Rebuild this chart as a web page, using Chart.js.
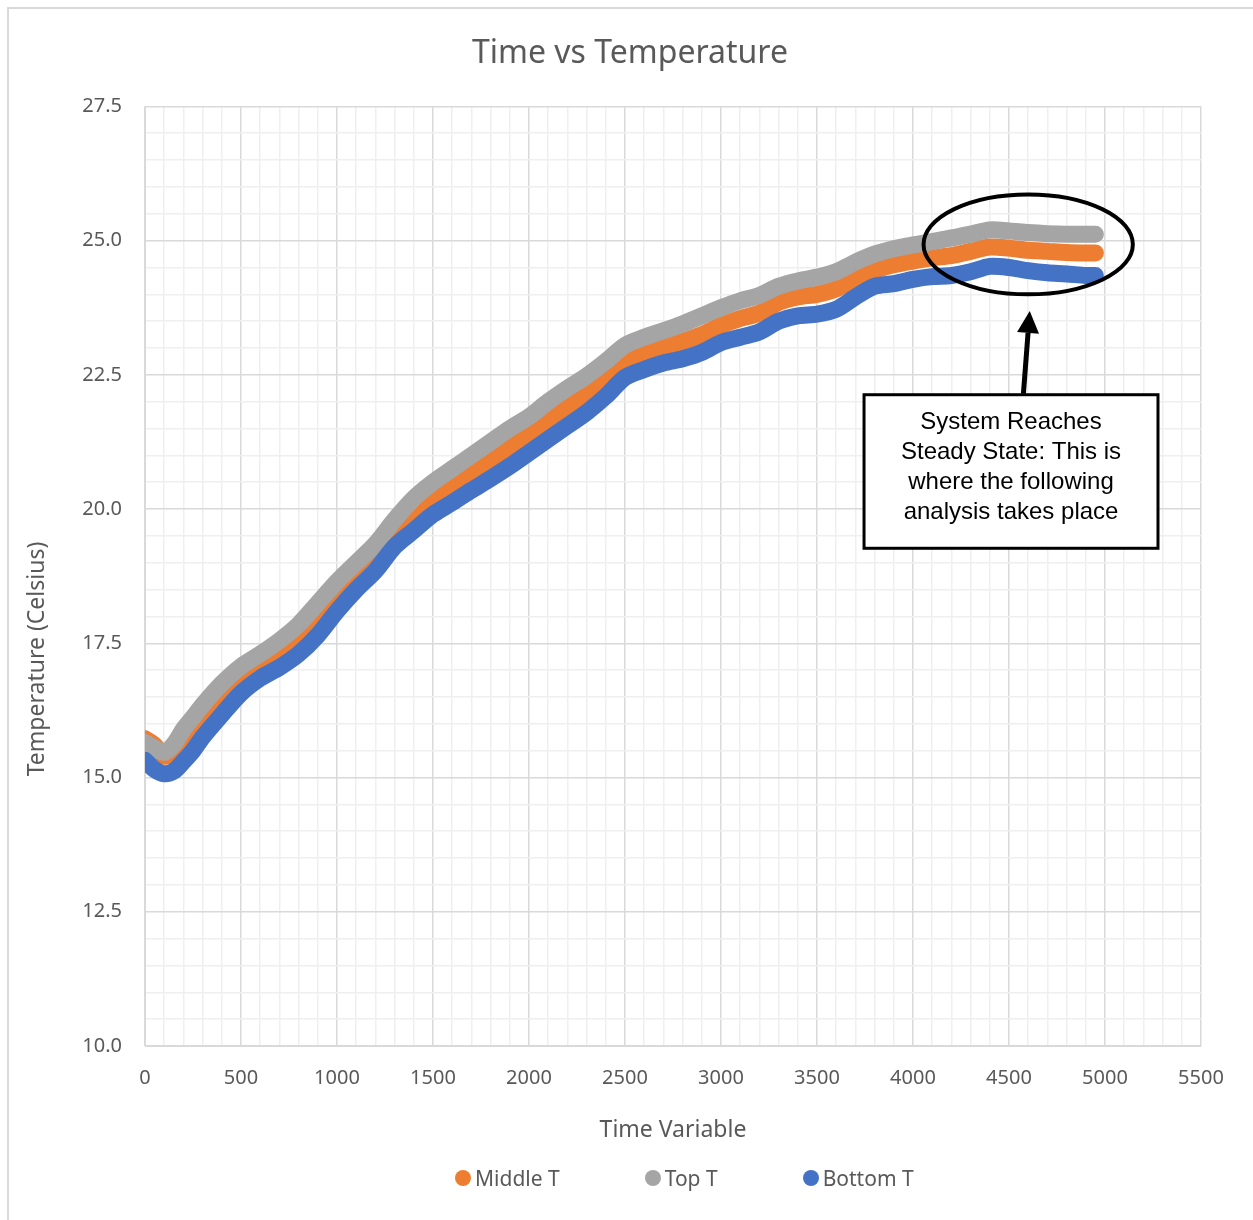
<!DOCTYPE html>
<html>
<head>
<meta charset="utf-8">
<script src="https://cdn.jsdelivr.net/npm/chart.js@4.4.1/dist/chart.umd.min.js"></script>
<style>
  html, body { margin: 0; padding: 0; background: #fff; overflow: hidden; }
  #wrap { position: relative; width: 1253px; height: 1220px; overflow: hidden; }
  #frame { position: absolute; left: 7px; top: 7px; width: 1300px; height: 1300px; border: 2px solid #d9d9d9; box-sizing: border-box; }
  #chart { position: absolute; left: 0; top: 0; }
  #legend { position: absolute; left: 455px; top: 1164px; display: flex; gap: 85px; font: 21px 'Noto Sans', sans-serif; color: #595959; }
  #legend .item { display: flex; align-items: center; gap: 4px; }
  #legend .dot { width: 16px; height: 16px; border-radius: 50%; display: inline-block; }
</style>
</head>
<body>
<div id="wrap">
  <div id="frame"></div>
  <canvas id="chart" width="1253" height="1220"></canvas>
  <div id="legend"></div>
</div>
<script>
// ─── DATA ─────────────────────────────────────
const timeVals = [0, 50, 100, 150, 200, 250, 300, 400, 500, 600, 700, 800, 900, 1000,
  1100, 1200, 1300, 1400, 1500, 1600, 1700, 1800, 1900, 2000, 2100, 2200, 2300, 2400,
  2500, 2600, 2700, 2800, 2900, 3000, 3100, 3200, 3300, 3400, 3500, 3600, 3700, 3800,
  3900, 4000, 4100, 4200, 4300, 4400, 4500, 4600, 4700, 4800, 4900, 4950];

const middleT = [15.72, 15.6, 15.4, 15.45, 15.68, 15.9, 16.12, 16.55, 16.88, 17.12, 17.38, 17.65, 18.05, 18.45,
  18.8, 19.15, 19.55, 19.9, 20.2, 20.45, 20.7, 20.92, 21.15, 21.4, 21.65, 21.9, 22.15, 22.4,
  22.75, 22.9, 23.02, 23.12, 23.25, 23.42, 23.55, 23.65, 23.85, 23.95, 24.0, 24.1, 24.3, 24.45,
  24.55, 24.62, 24.68, 24.72, 24.8, 24.88, 24.86, 24.82, 24.8, 24.78, 24.77, 24.77];

const topT = [15.65, 15.55, 15.47, 15.62, 15.9, 16.12, 16.35, 16.75, 17.07, 17.3, 17.55, 17.85, 18.25, 18.65,
  19.0, 19.35, 19.8, 20.2, 20.5, 20.75, 21.0, 21.25, 21.5, 21.72, 22.0, 22.25, 22.48, 22.75,
  23.05, 23.2, 23.32, 23.45, 23.6, 23.75, 23.88, 23.98, 24.15, 24.25, 24.32, 24.42, 24.6, 24.75,
  24.85, 24.92, 24.98, 25.05, 25.12, 25.2, 25.18, 25.15, 25.13, 25.12, 25.12, 25.12];

const bottomT = [15.32, 15.15, 15.07, 15.12, 15.3, 15.5, 15.75, 16.17, 16.57, 16.85, 17.05, 17.3, 17.65, 18.1,
  18.5, 18.85, 19.3, 19.6, 19.9, 20.12, 20.35, 20.57, 20.8, 21.05, 21.3, 21.55, 21.8, 22.1,
  22.45, 22.6, 22.72, 22.8, 22.92, 23.1, 23.2, 23.3, 23.5, 23.6, 23.63, 23.72, 23.95, 24.15,
  24.2, 24.28, 24.33, 24.35, 24.42, 24.52, 24.5, 24.44, 24.4, 24.38, 24.35, 24.35];

const seriesNames = ['Middle T', 'Top T', 'Bottom T'];
const seriesColors = ['#ED7D31', '#A5A5A5', '#4472C4'];
const noteLines = ['System Reaches', 'Steady State: This is', 'where the following', 'analysis takes place'];

// ─── HELPERS ──────────────────────────────────
const toPoints = ys => timeVals.map((t, i) => ({ x: t, y: ys[i] }));
const GRID_MAJOR = '#d9d9d9';
const GRID_MINOR = '#efefef';
const TEXT = '#595959';
const FONT = "'Noto Sans', sans-serif";

function lineSet(idx, ys, order) {
    return {
        label: seriesNames[idx],
        data: toPoints(ys),
        borderColor: seriesColors[idx],
        backgroundColor: seriesColors[idx],
        borderWidth: 17,
        borderCapStyle: 'round',
        borderJoinStyle: 'round',
        pointRadius: 0,
        tension: 0.3,
        order,
    };
}

// y-axis title + callout (ellipse, arrow, text box), placed through the scales
const calloutPlugin = {
    id: 'callout',
    afterDraw(chart) {
        const { ctx, scales: { x, y } } = chart;
        ctx.save();

        // y axis title
        ctx.translate(37, 659);
        ctx.rotate(-Math.PI / 2);
        ctx.fillStyle = TEXT;
        ctx.font = `23px ${FONT}`;
        ctx.textAlign = 'center';
        ctx.textBaseline = 'middle';
        ctx.fillText('Temperature (Celsius)', 0, 0);
        ctx.setTransform(1, 0, 0, 1, 0, 0);

        // ellipse around steady state
        const cx = x.getPixelForValue(4600), cy = y.getPixelForValue(24.93);
        const rx = x.getPixelForValue(4600 + 545) - cx;
        const ry = cy - y.getPixelForValue(24.93 + 0.93);
        ctx.beginPath();
        ctx.ellipse(cx, cy, rx, ry, 0, 0, Math.PI * 2);
        ctx.strokeStyle = '#000';
        ctx.lineWidth = 4;
        ctx.stroke();

        // text box
        const bl = x.getPixelForValue(3745), br = x.getPixelForValue(5276);
        const bt = y.getPixelForValue(22.13), bb = y.getPixelForValue(19.27);
        ctx.fillStyle = '#fff';
        ctx.fillRect(bl, bt, br - bl, bb - bt);
        ctx.lineWidth = 3;
        ctx.strokeRect(bl, bt, br - bl, bb - bt);
        ctx.fillStyle = '#000';
        ctx.font = "24px 'Liberation Sans', Arial, sans-serif";
        ctx.textAlign = 'center';
        ctx.textBaseline = 'middle';
        const tx = (bl + br) / 2;
        noteLines.forEach((s, i) => ctx.fillText(s, tx, bt + 28 + i * 30));

        // arrow from box to ellipse
        const ax0 = x.getPixelForValue(4575), ay0 = bt - 1;
        const ax1 = x.getPixelForValue(4608), ay1 = y.getPixelForValue(23.69);
        const ang = Math.atan2(ay1 - ay0, ax1 - ax0);
        const headLen = 22, headW = 11;
        const hx = ax1 - headLen * Math.cos(ang), hy = ay1 - headLen * Math.sin(ang);
        ctx.beginPath();
        ctx.moveTo(ax0, ay0);
        ctx.lineTo(hx, hy);
        ctx.lineWidth = 5;
        ctx.stroke();
        ctx.beginPath();
        ctx.moveTo(ax1, ay1);
        ctx.lineTo(hx + headW * Math.sin(ang), hy - headW * Math.cos(ang));
        ctx.lineTo(hx - headW * Math.sin(ang), hy + headW * Math.cos(ang));
        ctx.closePath();
        ctx.fill();

        ctx.restore();
    }
};

// ─── CHART ────────────────────────────────────
new Chart(document.getElementById('chart'), {
    type: 'line',
    data: {
        datasets: [
            lineSet(0, middleT, 2),
            lineSet(1, topT, 1),
            lineSet(2, bottomT, 0),
        ],
    },
    options: {
        responsive: false,
        animation: false,
        layout: { padding: { left: 59, right: 52, top: 0, bottom: 64 } },
        plugins: {
            legend: { display: false },
            tooltip: { enabled: false },
            title: {
                display: true,
                text: 'Time vs Temperature',
                color: TEXT,
                font: { family: FONT, size: 32, weight: 'normal' },
                padding: { top: 35, bottom: 33 },
            },
        },
        scales: {
            x: {
                type: 'linear',
                min: 0, max: 5500,
                border: { color: GRID_MAJOR, width: 1 },
                grid: {
                    drawTicks: false,
                    color: c => (c.tick && c.tick.value % 500 === 0) ? GRID_MAJOR : GRID_MINOR,
                    lineWidth: 1.5,
                },
                ticks: {
                    stepSize: 100,
                    autoSkip: false,
                    maxRotation: 0,
                    maxTicksLimit: 100,
                    padding: 20,
                    color: TEXT,
                    font: { family: FONT, size: 20 },
                    callback: v => (v % 500 === 0 ? String(v) : ''),
                },
                title: {
                    display: true,
                    text: 'Time Variable',
                    color: TEXT,
                    font: { family: FONT, size: 23 },
                    padding: { top: 0, bottom: 12 },
                },
                afterFit: s => { s.height = 110; s.paddingLeft = 0; s.paddingRight = 0; },
            },
            y: {
                min: 10, max: 27.5,
                border: { color: GRID_MAJOR, width: 1 },
                grid: {
                    drawTicks: false,
                    color: c => (c.tick && Math.round(c.tick.value * 10) % 25 === 0) ? GRID_MAJOR : GRID_MINOR,
                    lineWidth: 1.5,
                },
                ticks: {
                    stepSize: 0.5,
                    autoSkip: false,
                    maxTicksLimit: 100,
                    padding: 23,
                    color: TEXT,
                    font: { family: FONT, size: 20 },
                    callback: v => (Math.round(v * 10) % 25 === 0 ? v.toFixed(1) : ''),
                },
                afterFit: s => { s.width = 86; s.paddingTop = 0; s.paddingBottom = 0; },
            },
        },
    },
    plugins: [calloutPlugin],
});

// ─── LEGEND ───────────────────────────────────
document.getElementById('legend').innerHTML = seriesNames.map((n, i) =>
    `<span class="item"><span class="dot" style="background:${seriesColors[i]}"></span>${n}</span>`).join('');
</script>
</body>
</html>
